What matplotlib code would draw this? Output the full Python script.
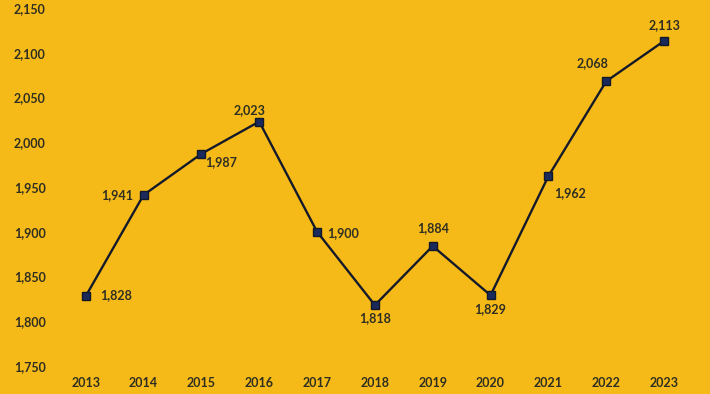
import matplotlib.pyplot as plt

years = [2013, 2014, 2015, 2016, 2017, 2018, 2019, 2020, 2021, 2022, 2023]
values = [1828, 1941, 1987, 2023, 1900, 1818, 1884, 1829, 1962, 2068, 2113]
# label offsets (pixels) and alignment per point
label_pos = [
    (14, 1, "left", "center"),
    (-10, 0, "right", "center"),
    (4, -8, "left", "center"),
    (-10, 12, "center", "center"),
    (10, -1, "left", "center"),
    (0, -13, "center", "center"),
    (0, 18, "center", "center"),
    (0, -14, "center", "center"),
    (6, -17, "left", "center"),
    (-14, 18, "center", "center"),
    (0, 16, "center", "center"),
]
yticks = [1750, 1800, 1850, 1900, 1950, 2000, 2050, 2100, 2150]

bg = "#F6BA18"
txt = "#2e2e22"
plt.rcParams["font.family"] = ["Lato", "DejaVu Sans"]

fig = plt.figure(figsize=(7.1, 3.94), dpi=100, facecolor=bg)
ax = fig.add_axes([0.080, 0.071, 0.896, 0.909])
ax.set_facecolor(bg)

ax.plot(years, values, color="#151a2a", linewidth=1.7, marker="s", markersize=5.5,
        markerfacecolor="#1b2a5c", markeredgecolor="#111827", zorder=3)

for x, y, (dx, dy, ha, va) in zip(years, values, label_pos):
    ax.annotate(f"{y:,}", (x, y), xytext=(dx, dy), textcoords="offset pixels",
                ha=ha, va=va, fontsize=9, fontweight="bold", color=txt)

ax.set_xlim(2012.5, 2023.5)
ax.set_ylim(1750, 2150)
ax.set_xticks(years)
ax.set_xticklabels([str(y) for y in years])
ax.set_yticks(yticks)
ax.set_yticklabels([f"{v:,}" for v in yticks])
ax.tick_params(length=0, labelsize=9, labelcolor=txt)
ax.tick_params(axis="y", pad=8)
ax.tick_params(axis="x", pad=8)
for lab in ax.get_xticklabels() + ax.get_yticklabels():
    lab.set_fontweight("bold")
for s in ax.spines.values():
    s.set_visible(False)

fig.savefig("out.png", dpi=100, facecolor=bg)
